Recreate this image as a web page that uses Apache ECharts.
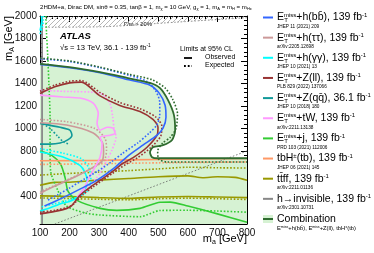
<!DOCTYPE html>
<html><head><meta charset="utf-8">
<script src="https://cdn.jsdelivr.net/npm/echarts@6/dist/echarts.min.js"></script>
<style>html,body{margin:0;padding:0;background:#fff}#c{width:374px;height:253px}</style>
</head><body><div id="c"></div>
<script>
// ---------- data (m_a [GeV], m_A [GeV]) ----------
const xTickValues = [100,200,300,400,500,600,700,800];
const yTickValues = [200,400,600,800,1000,1200,1400,1600,1800,2000];

const combObs = [[100,1575],[200,1545],[303,1500],[394,1450],[472,1405],[506,1358],[533,1251],[553,1118],[557,984],[546,895],[516,851],[482,833],[472,788],[479,744],[500,735],[800,735]];
const combExp = [[100,1625],[200,1600],[303,1545],[400,1482],[480,1432],[525,1355],[550,1251],[565,1130],[560,1000],[540,920],[515,870],[498,800],[502,725],[530,702],[800,702]];
const bbObs = [[100,1570],[200,1540],[303,1495],[404,1430],[472,1385],[503,1314],[523,1207],[526,1100],[516,1002],[496,940],[448,851],[400,760],[347,640],[293,540],[235,460],[190,400],[150,350],[115,310]];
const bbExp = [[100,1620],[200,1595],[303,1540],[404,1470],[460,1420],[490,1340],[505,1230],[505,1120],[495,1030],[470,960],[430,870],[380,780],[340,700],[295,620],[250,550],[200,470],[160,410],[125,360]];
const zllObs = [[100,1310],[150,1370],[200,1405],[240,1412],[303,1290],[370,1205],[438,1150],[482,1080],[499,1011],[496,940],[462,833],[415,740],[381,690],[337,601],[269,476],[235,405],[208,316],[191,289],[150,262],[100,240]];
const zllExp = [[100,1330],[150,1385],[200,1420],[240,1425],[303,1320],[370,1230],[438,1175],[490,1105],[512,1020],[508,930],[475,830],[430,740],[390,680],[345,600],[280,480],[245,410],[215,330],[195,300],[150,272],[100,255]];
const tautauObs = [[100,1050],[190,1030],[280,960],[310,880],[315,800],[310,710],[270,640],[235,590],[178,520],[120,450],[100,420]];
const tautauExp = [[100,1080],[190,1060],[285,1000],[320,910],[325,810],[318,720],[280,650],[240,600],[185,535],[130,470],[100,440]];
const zqqObs = [[100,1045],[168,1010],[201,985],[208,940],[195,900],[168,870],[134,860],[100,860]];
const zqqExp = [[110,1040],[134,1000],[160,930],[180,880],[200,860]];
const twObs = [[100,1296],[178,1280],[235,1270],[280,1225],[297,1136],[293,1046],[303,984],[327,1011],[347,1002],[354,957],[337,940],[303,922],[310,868],[303,744],[280,628],[262,539],[245,450],[225,390]];
const twExp = [[100,1340],[178,1330],[303,1314],[336,1225],[346,1100],[350,1011],[357,920],[343,806],[326,717],[303,600],[270,500],[240,430]];
const ggObs = [[100,790],[178,745],[235,672],[252,610],[259,540],[252,450],[235,400],[200,350],[170,330],[130,290],[100,265]];
const ggExp = [[100,820],[178,780],[240,730],[265,650],[272,560],[265,460],[240,405],[200,365],[150,330],[100,300]];
const ggObsTop = [[100,1870],[104,1920],[106,1960],[105,2000]];
const ggExpTop = [[100,1840],[108,1900],[111,1960],[112,2000]];
const jObs = [[100,800],[140,760],[170,680],[185,560],[195,440],[225,360],[303,289],[360,271],[438,289],[506,343],[540,345],[600,310],[700,240],[800,165]];
const jExp = [[120,2000],[122,1850],[126,1650],[130,1400],[134,1100],[134,800],[136,620],[160,450],[190,310],[250,250],[303,230],[438,215],[506,270],[600,272],[700,265],[800,255]];
const tbhObs = [[100,712],[300,716],[500,724],[800,732]];
const tbhExp = [[100,680],[300,686],[500,694],[800,702]];
const ttffObsUp = [[100,495],[150,520],[200,522],[300,540],[400,555],[500,570],[600,578],[650,562],[700,570],[760,565],[800,540]];
const ttffExpUp = [[100,585],[200,600],[300,612],[400,625],[500,640],[600,655],[700,650],[800,648]];
const ttffObsLo = [[100,400],[200,395],[300,385],[400,378],[500,390],[600,395],[700,390],[800,385]];
const ttffExpLo = [[100,382],[200,376],[300,370],[400,365],[500,375],[600,380],[700,375],[800,368]];
const hinvObs = [[107,150],[107,2000]];
const widthBoundary = [[117,1900],[320,1905],[560,1945],[800,1985]];
const diagonal = [[150,150],[800,800]];

const legendMain = ['+h(bb\u0304), 139 fb','+h(\u03c4\u03c4), 139 fb','+h(\u03b3\u03b3), 139 fb','+Z(ll), 139 fb','+Z(qq\u0304), 36.1 fb','+tW, 139 fb','+j, 139 fb','(tb), 139 fb','tt\u0304ff, 139 fb','h\u2192invisible, 139 fb','Combination'];
const legendRefs = ['JHEP 11 (2021) 209','arXiv:2205.12698','JHEP 10 (2021) 13','PLB 829 (2022) 137066','JHEP 10 (2018) 180','arXiv:2211.13138','PRD 103 (2021) 112006','JHEP 06 (2021) 145','arXiv:2211.01136','arXiv:2301.10731',''];

// ---------- styles ----------
const C = {bb:'#3366ff', tt:'#cc9999', gg:'#00ffff', zll:'#993333', zqq:'#119999', tw:'#ff99ff', j:'#33cc33', tbh:'#ff9966', ttff:'#999900', hinv:'#888888', comb:'#2f6b2f', fill:'#d6f2d3'};
const legendColors = [C.bb,C.tt,C.gg,C.zll,C.zqq,C.tw,C.j,C.tbh,C.ttff,C.hinv,C.comb];
const FONT = '"Liberation Sans", Arial, Helvetica, sans-serif';

function L(data, color, dotted, w) {
  return {type:'line', data, showSymbol:false, symbol:'none', smooth:0.25, silent:true, animation:false, z:3,
    lineStyle:{color, width:w||1.6, type: dotted ? [1.6,1.8] : 'solid'}};
}
function poly(points, fill, z) {
  return {type:'custom', silent:true, animation:false, z, clip:true, data:[[100,150]],
    renderItem:(p, api) => ({type:'polygon', shape:{points: points.map(pt => api.coord(pt))}, style:{fill}})};
}
const hatchCanvas = document.createElement('canvas');
hatchCanvas.width = 5; hatchCanvas.height = 5;
(function(){const g = hatchCanvas.getContext('2d'); g.strokeStyle='#999'; g.lineWidth=0.7; g.beginPath(); g.moveTo(0,5); g.lineTo(5,0); g.stroke();})();

const combPoly = combObs.concat([[800,150],[100,150]]);
const hatchPoly = [[117,2000]].concat(widthBoundary, [[800,2000]]);

// ---------- graphics ----------
const g = [];
const LX = 263, TX = 277, Y0 = 17.5, DY = 20.15;
legendMain.forEach((t, i) => {
  const y = Y0 + DY*i;
  if (i === 10) {
    g.push({type:'rect', shape:{x:LX, y:y-4, width:10, height:8}, style:{fill:C.fill}});
  }
  g.push({type:'line', shape:{x1:LX,y1:y,x2:LX+10,y2:y}, style:{stroke:legendColors[i], lineWidth:2}});
  let txt;
  if (i <= 6) txt = '{m|E}{p|miss}{m|' + t + '}{p|-1}';
  else if (i === 7) txt = '{m|tbH}{p|\u00b1}{m|' + t + '}{p|-1}';
  else if (i === 10) txt = '{m|' + t + '}';
  else txt = '{m|' + t + '}{p|-1}';
  g.push({type:'text', x:TX, y:y, style:{text:txt, verticalAlign:'middle', fill:'#000',
    rich:{m:{fontSize:10.5, fontFamily:FONT, fill:'#000', lineHeight:11}, p:{fontSize:6, fontFamily:FONT, fill:'#000', verticalAlign:'top', lineHeight:11}}}});
  if (i <= 6) g.push({type:'text', x:TX+7.2, y:y+3.2, style:{text:'T', fontSize:6, fontFamily:FONT, fill:'#000', verticalAlign:'middle'}});
  if (legendRefs[i]) g.push({type:'text', x:TX, y:y+9, style:{text:legendRefs[i], fontSize:4.7, fontFamily:FONT, fill:'#000', verticalAlign:'middle'}});
});
g.push({type:'text', x:TX, y:Y0+DY*10+9, style:{text:'{a|E}{b|miss}{a|+h(bb\u0304), E}{b|miss}{a|+Z(ll), tbH}{b|\u00b1}{a|(tb)}', verticalAlign:'middle',
  rich:{a:{fontSize:5.8, fontFamily:FONT, fill:'#000', lineHeight:7}, b:{fontSize:3.6, fontFamily:FONT, fill:'#000', verticalAlign:'top', lineHeight:7}}}});

// title
g.push({type:'text', x:40, y:7, style:{text:'{t|2HDM+a, Dirac DM, sin\u03b8 = 0.35, tan\u03b2 = 1, m}{s|\u03c7}{t| = 10 GeV, g}{s|\u03c7}{t| = 1, m}{s|A}{t| = m}{s|H}{t| = m}{s|H\u00b1}', verticalAlign:'middle',
  rich:{t:{fontSize:6.1, fontFamily:FONT, fill:'#000', lineHeight:8}, s:{fontSize:4, fontFamily:FONT, fill:'#000', verticalAlign:'bottom', lineHeight:8}}}});
// axis names
g.push({type:'text', x:247, y:239, style:{text:'{m|m}{s|a}{m| [GeV]}', align:'right', verticalAlign:'middle',
  rich:{m:{fontSize:11, fontFamily:FONT, fill:'#000', lineHeight:13}, s:{fontSize:7, fontFamily:FONT, fill:'#000', verticalAlign:'bottom', lineHeight:13}}}});
g.push({type:'text', x:9, y:16, rotation:Math.PI/2, style:{text:'{m|m}{s|A}{m| [GeV]}', align:'right', verticalAlign:'middle',
  rich:{m:{fontSize:11, fontFamily:FONT, fill:'#000', lineHeight:13}, s:{fontSize:7, fontFamily:FONT, fill:'#000', verticalAlign:'bottom', lineHeight:13}}}});
// annotations
g.push({type:'text', x:60, y:36, style:{text:'ATLAS', fontSize:9.5, fontWeight:'bold', fontStyle:'italic', fontFamily:FONT, fill:'#000', verticalAlign:'middle'}});
g.push({type:'text', x:60, y:48, style:{text:'{m|\u221As = 13 TeV, 36.1 - 139 fb}{p|-1}', verticalAlign:'middle',
  rich:{m:{fontSize:7.6, fontFamily:FONT, fill:'#000', lineHeight:9}, p:{fontSize:4.8, fontFamily:FONT, fill:'#000', verticalAlign:'top', lineHeight:9}}}});
g.push({type:'text', x:180, y:49, style:{text:'Limits at 95% CL', fontSize:7, fontFamily:FONT, fill:'#000', verticalAlign:'middle'}});
g.push({type:'line', shape:{x1:184,y1:58,x2:192,y2:58}, style:{stroke:'#000', lineWidth:1.8}});
g.push({type:'text', x:205, y:57, style:{text:'Observed', fontSize:7, fontFamily:FONT, fill:'#000', verticalAlign:'middle'}});
g.push({type:'line', shape:{x1:184,y1:66,x2:192,y2:66}, style:{stroke:'#000', lineWidth:1.8, lineDash:[1.8,2]}});
g.push({type:'text', x:205, y:65, style:{text:'Expected', fontSize:7, fontFamily:FONT, fill:'#000', verticalAlign:'middle'}});
g.push({type:'text', x:124, y:24, style:{text:'\u0393/m > 20%', fontSize:5.8, fontFamily:FONT, fill:'#000', verticalAlign:'middle'}});
g.push({type:'text', x:176, y:186, rotation:0.3, style:{text:'{m|m}{s|A}{m| = m}{s|a}', align:'center', verticalAlign:'middle',
  rich:{m:{fontSize:5.8, fontFamily:FONT, fill:'#444', lineHeight:7}, s:{fontSize:3.8, fontFamily:FONT, fill:'#444', verticalAlign:'bottom', lineHeight:7}}}});

const axLbl = {fontSize:10, fontFamily:FONT, color:'#111', formatter: v => String(v)};
const chart = echarts.init(document.getElementById('c'));
chart.setOption({
  animation:false,
  grid:{left:40, right:127, top:16, bottom:29, containLabel:false},
  xAxis:[
    {type:'value', min:100, max:800, interval:100, position:'bottom',
     axisLine:{lineStyle:{color:'#000', width:1}}, axisTick:{inside:true, length:6, lineStyle:{color:'#000'}},
     minorTick:{show:true, splitNumber:5, length:3, lineStyle:{color:'#000'}},
     axisLabel:Object.assign({margin:4, customValues:xTickValues}, axLbl), splitLine:{show:false}},
    {type:'value', min:100, max:800, interval:100, position:'top',
     axisLine:{lineStyle:{color:'#000', width:1}}, axisTick:{inside:true, length:6, lineStyle:{color:'#000'}},
     minorTick:{show:true, splitNumber:5, length:3, lineStyle:{color:'#000'}},
     axisLabel:{show:false}, splitLine:{show:false}}
  ],
  yAxis:[
    {type:'value', min:150, max:2000, splitNumber:9, position:'left',
     axisLine:{show:true, lineStyle:{color:'#000', width:1}}, axisTick:{show:true, inside:true, length:6, lineStyle:{color:'#000'}},
     minorTick:{show:true, splitNumber:5, length:3, lineStyle:{color:'#000'}},
     axisLabel:Object.assign({margin:3, showMinLabel:false, customValues:yTickValues}, axLbl), splitLine:{show:false}},
    {type:'value', min:150, max:2000, splitNumber:9, position:'right',
     axisLine:{show:true, lineStyle:{color:'#000', width:1}}, axisTick:{show:true, inside:true, length:6, lineStyle:{color:'#000'}},
     minorTick:{show:true, splitNumber:5, length:3, lineStyle:{color:'#000'}},
     axisLabel:{show:false}, splitLine:{show:false}}
  ],
  series:[
    poly(combPoly, C.fill, 1),
    poly(hatchPoly, {image:hatchCanvas, repeat:'repeat'}, 1),
    L(widthBoundary, '#777', true, 0.8),
    L(diagonal, '#666', true, 0.8),
    L(hinvObs, C.hinv, false, 1.8),
    L(ttffObsUp, C.ttff, false), L(ttffExpUp, C.ttff, true),
    L(ttffObsLo, C.ttff, false), L(ttffExpLo, C.ttff, true),
    L(jObs, C.j, false), L(jExp, C.j, true),
    L(tbhExp, C.tbh, true), L(tbhObs, C.tbh, false),
    L(ggObs, C.gg, false), L(ggExp, C.gg, true),
    L(ggObsTop, C.gg, false), L(ggExpTop, C.gg, true),
    L(zqqObs, C.zqq, false), L(zqqExp, C.zqq, true),
    L(tautauObs, C.tt, false), L(tautauExp, C.tt, true),
    L(twObs, C.tw, false), L(twExp, C.tw, true),
    L(zllObs, C.zll, false), L(zllExp, C.zll, true),
    L(bbObs, C.bb, false), L(bbExp, C.bb, true),
    L(combObs, C.comb, false, 1.8), L(combExp, C.comb, true, 1.6)
  ],
  graphic:{elements:g}
});
</script></body></html>
